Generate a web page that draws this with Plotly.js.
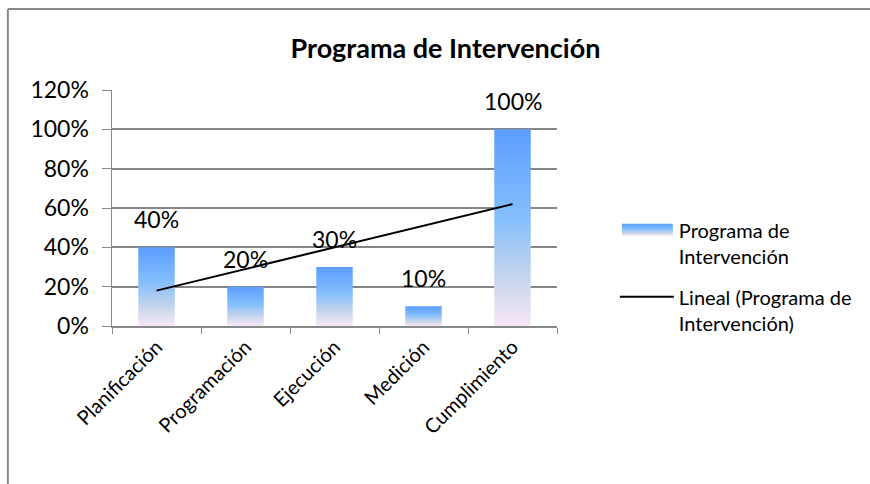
<!DOCTYPE html>
<html>
<head>
<meta charset="utf-8">
<script src="https://cdn.plot.ly/plotly-3.0.1.min.js"></script>
<style>
html,body{margin:0;padding:0;background:#fff;}
#chart{width:870px;height:484px;}
</style>
</head>
<body>
<div id="chart"></div>
<script>
const categories = ['Planificación', 'Programación', 'Ejecución', 'Medición', 'Cumplimiento'];
const values = [0.40, 0.20, 0.30, 0.10, 1.00];
const trendX = ['Planificación', 'Cumplimiento'];
const trendY = [0.18, 0.62];
const yTickVals = [0, 0.2, 0.4, 0.6, 0.8, 1.0, 1.2];
const yTickText = ['0%', '20%', '40%', '60%', '80%', '100%', '120%'];
const seriesName = 'Programa de<br>Intervención';
const trendName = 'Lineal (Programa de<br>Intervención)';
const chartTitle = 'Programa de Intervención';

const FONT = 'Lato, "Open Sans", sans-serif';

const traces = [
  {
    type: 'bar', x: categories, y: values, name: seriesName, legendgroup: 'g1',
    marker: {color: '#85BFFC', line: {width: 0}},
    hoverinfo: 'none'
  },
  {
    type: 'scatter', mode: 'lines', x: trendX, y: trendY, name: trendName, legendgroup: 'g2',
    line: {color: '#000000', width: 2}, hoverinfo: 'none'
  }
];

const annotations = categories.map((c, i) => ({
  x: c, y: values[i], xref: 'x', yref: 'y',
  text: Math.round(values[i] * 100) + '%',
  showarrow: false, yanchor: 'bottom', yshift: 12,
  font: {family: FONT, size: 23, color: '#000'}
}));

const layout = {
  width: 870, height: 484,
  paper_bgcolor: '#fff', plot_bgcolor: '#fff',
  margin: {l: 112, r: 313, t: 90, b: 158},
  title: {text: '<b>' + chartTitle + '</b>', x: 0.512, xanchor: 'center', y: 0.9, yanchor: 'middle',
          font: {family: FONT, size: 27, color: '#000'}},
  bargap: 0.59,
  showlegend: true,
  legend: {x: 1.13, xanchor: 'left', y: 0.49, yanchor: 'top', valign: 'top',
           traceorder: 'grouped',
           font: {family: FONT, size: 20, color: '#000'}, itemwidth: 54,
           tracegroupgap: 12, bgcolor: 'rgba(0,0,0,0)'},
  xaxis: {
    type: 'category', tickangle: -45, tickson: 'boundaries', ticks: 'outside', ticklen: 6,
    tickcolor: '#888', showline: true, linecolor: '#888', linewidth: 1.5,
    tickfont: {family: FONT, size: 20, color: '#000'}, showgrid: false,
    range: [-0.5, 4.5]
  },
  yaxis: {
    range: [0, 1.2], tickvals: yTickVals, ticktext: yTickText,
    ticks: 'outside', ticklen: 9, tickcolor: '#888', ticklabelstandoff: 8,
    showline: true, linecolor: '#888', linewidth: 1.5,
    showgrid: true, gridcolor: '#868686', gridwidth: 2, zeroline: false,
    tickfont: {family: FONT, size: 23, color: '#000'}
  },
  annotations: annotations,
  shapes: [
    {type: 'line', xref: 'paper', yref: 'paper', x0: -0.234, x1: 1.8, y0: 1.343, y1: 1.343, line: {color: '#888', width: 2}},
    {type: 'line', xref: 'paper', yref: 'paper', x0: -0.234, x1: -0.234, y0: 1.343, y1: -0.7, line: {color: '#888', width: 2}}
  ]
};

function applyGradient(gd) {
  const svg = gd.querySelector('svg.main-svg');
  let defs = svg.querySelector('defs');
  if (!svg.querySelector('#barGrad')) {
    const ns = 'http://www.w3.org/2000/svg';
    const lg = document.createElementNS(ns, 'linearGradient');
    lg.setAttribute('id', 'barGrad');
    lg.setAttribute('x1', '0'); lg.setAttribute('y1', '0');
    lg.setAttribute('x2', '0'); lg.setAttribute('y2', '1');
    [['0', '#5C9DFF'], ['0.45', '#85BFFC'], ['0.75', '#C5D5EC'], ['1', '#F8E8F6']].forEach(s => {
      const st = document.createElementNS(ns, 'stop');
      st.setAttribute('offset', s[0]); st.setAttribute('stop-color', s[1]);
      lg.appendChild(st);
    });
    defs.appendChild(lg);
  }
  gd.querySelectorAll('.barlayer .point path').forEach(p => { p.style.fill = 'url(#barGrad)'; });
  const legTraces = gd.querySelectorAll('.legend .traces');
  if (legTraces.length) {
    const bp = legTraces[0].querySelector('.legendpoints path');
    if (bp) { bp.style.fill = 'url(#barGrad)'; bp.setAttribute('d', 'M-25,-6H26V6H-25Z'); }
  }
}

Plotly.newPlot('chart', traces, layout, {staticPlot: true}).then(gd => {
  applyGradient(gd);
});
</script>
</body>
</html>
